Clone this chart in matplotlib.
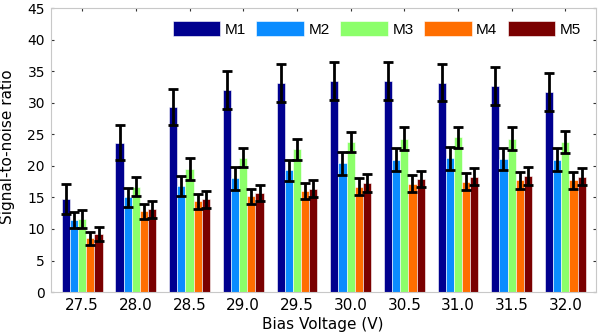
import numpy as np
import matplotlib
matplotlib.use("Agg")
import matplotlib.pyplot as plt

# ── datos ────────────────────────────────────────────────────────────────────
voltages = ["27.5", "28.0", "28.5", "29.0", "29.5", "30.0", "30.5", "31.0", "31.5", "32.0"]
series   = ["M1", "M2", "M3", "M4", "M5"]

m1 = [14.8, 23.7, 29.3, 32.0, 33.1, 33.5, 33.5, 33.2, 32.6, 31.7]
m2 = [11.4, 15.0, 16.8, 18.0, 19.3, 20.4, 21.0, 21.2, 21.1, 21.0]
m3 = [11.6, 16.7, 19.5, 21.3, 22.6, 23.8, 24.3, 24.5, 24.3, 23.8]
m4 = [8.5, 12.8, 14.4, 15.2, 16.0, 16.7, 17.2, 17.5, 17.7, 17.7]
m5 = [9.2, 13.1, 14.7, 15.7, 16.4, 17.3, 17.9, 18.3, 18.4, 18.3]

e1 = [2.4, 2.7, 2.9, 3.0, 3.0, 3.0, 3.0, 3.0, 3.0, 3.0]
e2 = [1.3, 1.5, 1.6, 1.8, 1.7, 1.8, 1.8, 1.8, 1.8, 1.8]
e3 = [1.4, 1.5, 1.7, 1.5, 1.7, 1.6, 1.8, 1.7, 1.8, 1.7]
e4 = [1.0, 1.2, 1.2, 1.2, 1.3, 1.3, 1.3, 1.3, 1.3, 1.3]
e5 = [1.1, 1.3, 1.3, 1.3, 1.3, 1.4, 1.3, 1.4, 1.4, 1.4]

values = [m1, m2, m3, m4, m5]
errors = [e1, e2, e3, e4, e5]
colors = ["#00008f", "#0a8cff", "#8cff6a", "#ff6e00", "#7a0000"]

# ── gráfica ──────────────────────────────────────────────────────────────────
plt.rcParams['font.family'] = ['DejaVu Sans']

fig = plt.figure(figsize=(6.0, 3.35), dpi=100)
ax = fig.add_axes([0.0842, 0.128, 0.909, 0.848])

x = np.arange(len(voltages))
w = 0.152
for i, (vals, errs, col, name) in enumerate(zip(values, errors, colors, series)):
    pos = x + (i - 2) * w
    ax.bar(pos, vals, width=w, color=col, edgecolor='white', linewidth=0.4,
           label=name, zorder=2)
    ax.errorbar(pos, vals, yerr=errs, fmt='none', ecolor='black',
                elinewidth=2, capsize=3.5, capthick=2, zorder=3)

ax.set_xlim(-0.59, len(voltages) - 1 + 0.57)
ax.set_ylim(0, 45)
ax.set_yticks(np.arange(0, 46, 5))
ax.set_xticks(x)
ax.set_xticklabels(voltages)
ax.tick_params(axis='y', labelsize=10, direction='in', length=2.5,
               right=True, color='#333333', pad=4)
ax.tick_params(axis='x', labelsize=11, direction='in', length=2,
               top=True, bottom=False, color='#333333', pad=4)
for sp in ax.spines.values():
    sp.set_color('#c8c8c8')
    sp.set_linewidth(0.8)

ax.set_xlabel("Bias Voltage (V)", fontsize=11, labelpad=3)
ax.set_ylabel("Signal-to-noise ratio", fontsize=11)
ax.yaxis.set_label_coords(-0.065, 0.512)

leg = ax.legend(loc='upper right', bbox_to_anchor=(0.99, 0.985), ncol=5, frameon=False,
                prop={'family': 'Liberation Sans', 'size': 11},
                handlelength=3.1, handleheight=1.1, handletextpad=0.3,
                columnspacing=0.7, borderaxespad=0.2)

fig.savefig("out.png", dpi=100)
plt.close()
